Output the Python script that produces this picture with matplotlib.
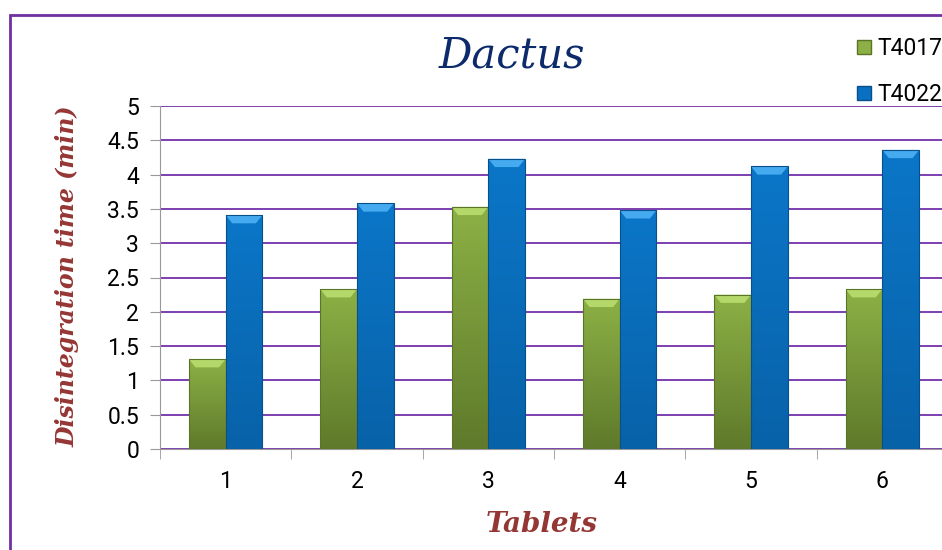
import numpy as np
import matplotlib
matplotlib.use('Agg')
import matplotlib.pyplot as plt
from matplotlib.patches import Rectangle, Polygon
from matplotlib.lines import Line2D
from matplotlib.colors import LinearSegmentedColormap

tablets = ['1', '2', '3', '4', '5', '6']
t4017 = [1.31, 2.33, 3.53, 2.19, 2.25, 2.33]
t4022 = [3.41, 3.58, 4.23, 3.48, 4.12, 4.36]
series_names = ['T4017', 'T4022']
yticks = [0, 0.5, 1, 1.5, 2, 2.5, 3, 3.5, 4, 4.5, 5]

green = '#7a9a3a'
blue = '#0a70c2'
purple = '#7d3fb0'
narrow = ['Roboto', 'DejaVu Sans']
serif = ['DejaVu Serif']

fig = plt.figure(figsize=(9.42, 5.5), dpi=100)
# outer chart border (cut off at right and bottom like the original)
fig.patches.append(Rectangle((10/942, -0.05), 1.0, 1 - 15/550 + 0.05,
                             transform=fig.transFigure, fill=False,
                             edgecolor='#7030a0', lw=2, zorder=0))

ax = fig.add_axes([160/942, 1 - 449/550, 788/942, 343/550])
x = np.arange(len(tablets))
w = 0.28

green_cmap = LinearSegmentedColormap.from_list('g', ['#5f7a2b', '#8cb045'])
blue_cmap = LinearSegmentedColormap.from_list('b', ['#0862a8', '#0b76c8'])
grad = np.linspace(0, 1, 64).reshape(-1, 1)

def draw_bars(xs, vals, cmap, edge, bevel):
    bars = ax.bar(xs, vals, w, color='none', edgecolor=edge, lw=0.8, zorder=5)
    for b, xi, v in zip(bars, xs, vals):
        im = ax.imshow(grad, cmap=cmap, origin='lower', aspect='auto',
                       extent=(xi - w/2, xi + w/2, 0, v), zorder=3)
        im.set_clip_path(b)
        d = 0.05
        ax.add_patch(Polygon([(xi - w/2, v), (xi + w/2, v), (xi + w/2 - d, v - 0.12),
                              (xi - w/2 + d, v - 0.12)], closed=True, color=bevel,
                             lw=0, zorder=4))

draw_bars(x - w/2, t4017, green_cmap, '#5a7428', '#b5d86a')
draw_bars(x + w/2, t4022, blue_cmap, '#06508c', '#45aaf0')

ax.set_ylim(0, 5)
ax.set_xlim(-0.5, len(tablets) - 0.5)
ax.set_yticks(yticks)
ax.set_yticklabels([f'{t:g}' for t in yticks], family=narrow, fontsize=16.5)
ax.set_xticks(x)
ax.set_xticklabels(tablets, family=narrow, fontsize=16.5)
ax.set_xticks(np.arange(-0.5, len(tablets)), minor=True)
ax.tick_params(axis='x', which='major', length=0, pad=15)
ax.tick_params(axis='x', which='minor', length=7, color='#999999')
ax.tick_params(axis='y', length=7, color='#999999', pad=8)
ax.yaxis.grid(True, color=purple, lw=1.4, zorder=1)
ax.set_axisbelow(True)
for s in ['top', 'right']:
    ax.spines[s].set_visible(False)
ax.spines['left'].set_color('#999999')
ax.spines['bottom'].set_color('#999999')

fig.text(512/942, 1 - 55/550, 'Dactus', family=serif, style='italic',
         fontsize=30, color='#0d2a6b', ha='center', va='center')
fig.text(68/942, 1 - 276/550, 'Disintegration time (min)', family=serif,
         style='italic', weight='bold', fontsize=17, color='#943634',
         rotation=90, ha='center', va='center')
fig.text(542/942, 1 - 525/550, 'Tablets', family=serif, style='italic',
         weight='bold', fontsize=20, color='#943634', ha='center', va='center')

handles = [Line2D([], [], marker='s', ls='', markersize=10, markerfacecolor='#8cb045',
                  markeredgecolor='#5a7428'),
           Line2D([], [], marker='s', ls='', markersize=10, markerfacecolor=blue,
                  markeredgecolor='#06508c')]
fig.legend(handles, series_names, loc='upper left', bbox_to_anchor=(843/942, 1 - 28/550),
           frameon=False, prop={'family': narrow, 'size': 16.5}, handletextpad=0.1,
           labelspacing=1.0, handlelength=1.0, borderaxespad=0)

fig.savefig('out.png', dpi=100)
